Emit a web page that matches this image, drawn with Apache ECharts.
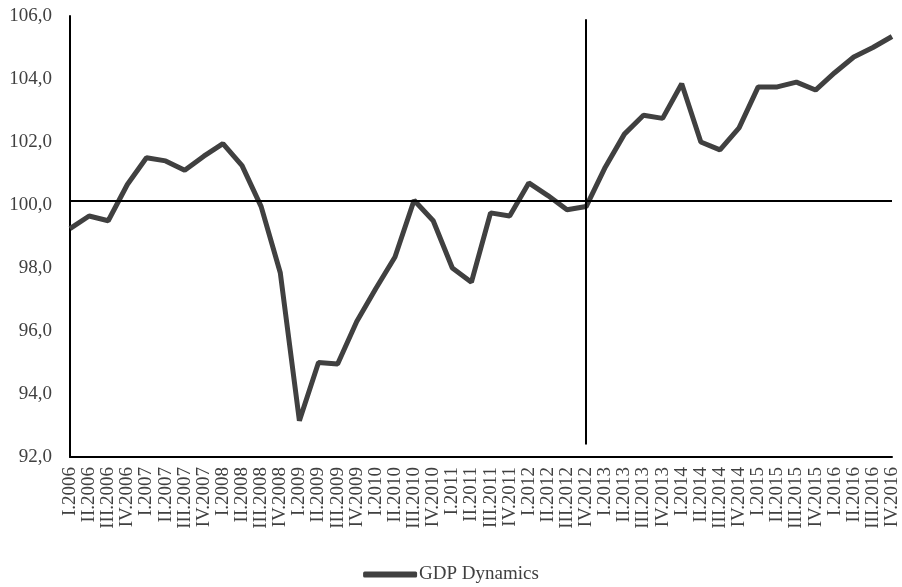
<!DOCTYPE html>
<html>
<head>
<meta charset="utf-8">
<script src="https://cdn.jsdelivr.net/npm/echarts@6/dist/echarts.min.js"></script>
<style>
html,body{margin:0;padding:0;background:#fff;}
#chart{width:902px;height:587px;}
</style>
</head>
<body>
<div id="chart"></div>
<script>
var categories = [
  'I.2006','II.2006','III.2006','IV.2006',
  'I.2007','II.2007','III.2007','IV.2007',
  'I.2008','II.2008','III.2008','IV.2008',
  'I.2009','II.2009','III.2009','IV.2009',
  'I.2010','II.2010','III.2010','IV.2010',
  'I.2011','II.2011','III.2011','IV.2011',
  'I.2012','II.2012','III.2012','IV.2012',
  'I.2013','II.2013','III.2013','IV.2013',
  'I.2014','II.2014','III.2014','IV.2014',
  'I.2015','II.2015','III.2015','IV.2015',
  'I.2016','II.2016','III.2016','IV.2016'
];
var gdpDynamics = [
  99.25, 99.65, 99.5, 100.65,
  101.5, 101.4, 101.1, 101.55,
  101.95, 101.25, 99.95, 97.85,
  93.15, 95.0, 94.95, 96.3,
  97.35, 98.35, 100.15, 99.5,
  98.0, 97.55, 99.75, 99.65,
  100.7, 100.3, 99.85, 99.95,
  101.2, 102.25, 102.85, 102.75,
  103.85, 102.0, 101.75, 102.45,
  103.75, 103.75, 103.9, 103.65,
  104.2, 104.7, 105.0, 105.35
];
var yTicks = [92, 94, 96, 98, 100, 102, 104, 106];
var seriesName = 'GDP Dynamics';
var refLevel = 100.15;
var refCategory = 'IV.2012';
var refTop = 105.9;
var refBottom = 92.4;

var FONT = '"Liberation Serif", "DejaVu Serif", serif';
var chart = echarts.init(document.getElementById('chart'), null, {renderer: 'canvas'});
chart.setOption({
  animation: false,
  backgroundColor: '#ffffff',
  grid: {left: 70, right: 10, top: 16, bottom: 130, containLabel: false},
  legend: {
    data: [{name: seriesName, icon: 'roundRect'}],
    bottom: -2,
    left: 'center',
    itemWidth: 54,
    itemHeight: 6,
    itemGap: 10,
    itemStyle: {color: '#404040'},
    textStyle: {fontFamily: FONT, fontSize: 19, color: '#404040', padding: [0, 0, 0, -3]}
  },
  xAxis: {
    type: 'category',
    data: categories,
    boundaryGap: false,
    axisLine: {show: true, lineStyle: {color: '#000', width: 2}},
    axisTick: {show: false},
    splitLine: {show: false},
    axisLabel: {
      rotate: 90,
      interval: 0,
      margin: 10,
      fontFamily: FONT,
      fontSize: 19,
      color: '#404040'
    }
  },
  yAxis: {
    type: 'value',
    min: yTicks[0],
    max: yTicks[yTicks.length - 1],
    interval: 2,
    axisLine: {show: true, lineStyle: {color: '#000', width: 2}},
    axisTick: {show: false},
    splitLine: {show: false},
    axisLabel: {
      margin: 18,
      fontFamily: FONT,
      fontSize: 19,
      color: '#404040',
      formatter: function (v) { return v.toFixed(1).replace('.', ','); }
    }
  },
  series: [{
    name: seriesName,
    type: 'line',
    data: gdpDynamics,
    symbol: 'none',
    lineStyle: {color: '#404040', width: 5},
    itemStyle: {color: '#404040'},
    z: 3,
    markLine: {
      silent: true,
      symbol: 'none',
      label: {show: false},
      lineStyle: {color: '#000', width: 2, type: 'solid'},
      data: [
        {yAxis: refLevel},
        [{coord: [refCategory, refTop]}, {coord: [refCategory, refBottom]}]
      ]
    }
  }]
});
</script>
</body>
</html>
